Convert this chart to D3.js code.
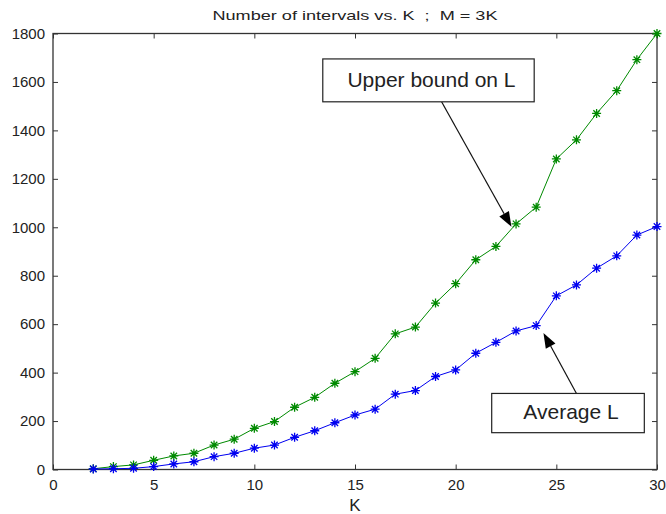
<!DOCTYPE html>
<html lang='en'>
  <head>
    <style type='text/css'>
      body {margin: 0; background-color: #fff;}
      #visualization {width: 666px; height: 514px;}
      text {font-family: "Liberation Sans", Arial, sans-serif; fill: #222;}
    </style>
  </head>
  <body>

    <div id='visualization'>
      <svg width='666' height='514'></svg>
    </div>

    <script src='https://d3js.org/d3.v7.min.js'></script>
    <script type='text/javascript'>
        // data
        var K = [2, 3, 4, 5, 6, 7, 8, 9, 10, 11, 12, 13, 14, 15, 16,
                 17, 18, 19, 20, 21, 22, 23, 24, 25, 26, 27, 28, 29, 30];

        var upperBound = [3, 12, 19, 38, 56, 67, 101, 125, 170, 198, 257, 298, 356, 404, 459,
                          560, 588, 687, 767, 866, 921, 1014, 1083, 1282, 1361, 1470, 1564, 1692, 1800];

        var averageL = [2, 3, 5, 12, 23, 32, 53, 67, 88, 101, 133, 160, 193, 225, 249,
                        311, 326, 384, 411, 480, 525, 572, 594, 717, 762, 831, 882, 968, 1003];

        var xTicks = [0, 5, 10, 15, 20, 25, 30];
        var yTicks = [0, 200, 400, 600, 800, 1000, 1200, 1400, 1600, 1800];

        var titleText = "Number of intervals vs. K  ;  M = 3K";
        var xLabel = "K";

        // annotation boxes + arrows, in data units
        var notes = [
          {text: "Upper bound on L", box: [13.4, 23.9, 1695, 1518], from: [19.3, 1518], to: [22.77, 1002]},
          {text: "Average L", box: [21.79, 29.37, 314, 152], from: [26.0, 314], to: [24.36, 564]}
        ];

        var svg = d3.select("#visualization svg");
        var margin = {top: 33.5, right: 9, bottom: 44.5, left: 53};
        var W = 666, H = 514;

        var x = d3.scaleLinear().domain([0, 30]).range([margin.left, W - margin.right]);
        var y = d3.scaleLinear().domain([0, 1800]).range([H - margin.bottom, margin.top]);

        // title
        svg.append("text")
            .attr("x", (x(0) + x(30)) / 2)
            .attr("y", 20)
            .attr("text-anchor", "middle")
            .attr("textLength", 285)
            .attr("lengthAdjust", "spacingAndGlyphs")
            .style("font-size", "13px")
            .style("white-space", "pre")
            .text(titleText);

        // axes, ticks pointing inwards like matlab
        var axisColor = "#333";
        var bottom = svg.append("g")
            .attr("transform", "translate(0," + y(0) + ")")
            .call(d3.axisBottom(x).tickValues(xTicks).tickSizeInner(-5).tickSizeOuter(0).tickPadding(6));
        var left = svg.append("g")
            .attr("transform", "translate(" + x(0) + ",0)")
            .call(d3.axisLeft(y).tickValues(yTicks).tickFormat(d3.format("d"))
                .tickSizeInner(-5).tickSizeOuter(0).tickPadding(8));
        svg.append("g")
            .attr("transform", "translate(0," + y(1800) + ")")
            .call(d3.axisTop(x).tickValues(xTicks).tickSizeInner(-5).tickSizeOuter(0).tickFormat(""));
        svg.append("g")
            .attr("transform", "translate(" + x(30) + ",0)")
            .call(d3.axisRight(y).tickValues(yTicks).tickSizeInner(-5).tickSizeOuter(0).tickFormat(""));

        svg.selectAll(".domain").remove();
        svg.selectAll(".tick line").attr("stroke", axisColor);
        svg.selectAll(".tick text")
            .style("font-family", "'Liberation Sans', Arial, sans-serif")
            .style("font-size", "15px")
            .attr("fill", "#222");
        bottom.selectAll(".tick text").attr("dy", "0.95em");

        svg.append("rect")
            .attr("x", x(0)).attr("y", y(1800))
            .attr("width", x(30) - x(0)).attr("height", y(0) - y(1800))
            .attr("fill", "none").attr("stroke", axisColor).attr("stroke-width", 1.3);

        svg.append("text")
            .attr("x", (x(0) + x(30)) / 2)
            .attr("y", 511)
            .attr("text-anchor", "middle")
            .style("font-size", "17px")
            .text(xLabel);

        // series
        function drawSeries(values, color) {
            var pts = K.map(function(k, i) { return [x(k), y(values[i])]; });
            svg.append("path")
                .attr("d", d3.line()(pts))
                .attr("fill", "none")
                .attr("stroke", color)
                .attr("stroke-width", 1);

            var r = 4.5, d = r * 0.72;
            svg.append("g").selectAll("path").data(pts).enter().append("path")
                .attr("d", function(p) {
                    return "M" + (p[0] - r) + "," + p[1] + "h" + (2 * r) +
                           "M" + p[0] + "," + (p[1] - r) + "v" + (2 * r) +
                           "M" + (p[0] - d) + "," + (p[1] - d) + "l" + (2 * d) + "," + (2 * d) +
                           "M" + (p[0] - d) + "," + (p[1] + d) + "l" + (2 * d) + "," + (-2 * d);
                })
                .attr("stroke", color)
                .attr("stroke-width", 1.3)
                .attr("fill", "none");
        }
        drawSeries(upperBound, "#008a00");
        drawSeries(averageL, "#0000f0");

        // annotations
        notes.forEach(function(n) {
            var x0 = x(n.box[0]), x1 = x(n.box[1]), y0 = y(n.box[2]), y1 = y(n.box[3]);
            var fx = x(n.from[0]), fy = y(n.from[1]), tx = x(n.to[0]), ty = y(n.to[1]);

            var dx = tx - fx, dy = ty - fy, len = Math.sqrt(dx * dx + dy * dy);
            var ux = dx / len, uy = dy / len, hl = 15, hw = 5.5;
            var bx = tx - ux * hl, by = ty - uy * hl;

            svg.append("line")
                .attr("x1", fx).attr("y1", fy).attr("x2", bx).attr("y2", by)
                .attr("stroke", "#111").attr("stroke-width", 1.2);
            svg.append("path")
                .attr("d", "M" + tx + "," + ty +
                           "L" + (bx - uy * hw) + "," + (by + ux * hw) +
                           "L" + (bx + uy * hw) + "," + (by - ux * hw) + "Z")
                .attr("fill", "#000");

            svg.append("rect")
                .attr("x", x0).attr("y", y0)
                .attr("width", x1 - x0).attr("height", y1 - y0)
                .attr("fill", "#fff").attr("stroke", "#222").attr("stroke-width", 1.2);
            svg.append("text")
                .attr("x", (x0 + x1) / 2 + 3)
                .attr("y", y0 + (y1 - y0) * 0.66)
                .attr("text-anchor", "middle")
                .style("font-size", "21px")
                .text(n.text);
        });
    </script>
  </body>
</html>
